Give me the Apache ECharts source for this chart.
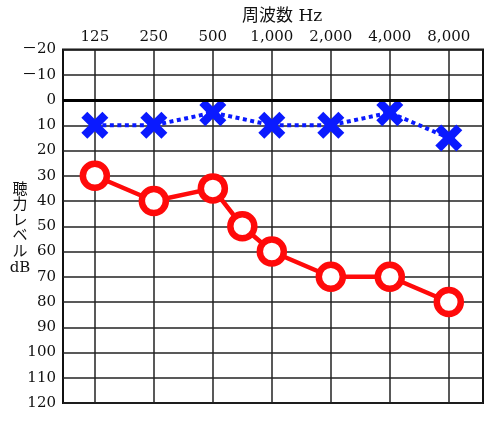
<!DOCTYPE html>
<html>
<head>
<meta charset="utf-8">
<script src="https://cdn.jsdelivr.net/npm/echarts@6/dist/echarts.min.js"></script>
<style>
html, body { margin: 0; padding: 0; background: #fff; }
#chart { width: 500px; height: 421px; }
</style>
</head>
<body>
<div id="chart"></div>
<script>
// 周波数 (octave index -> label)
var freqLabels = ['125', '250', '500', '1,000', '2,000', '4,000', '8,000'];
var freqTicks = [0, 1, 2, 3, 4, 5, 6];

// 右耳 (○) : position on the octave scale, dB
var rightPos = [0, 1, 2, 2.5, 3, 4, 5, 6];
var rightDb = [30, 40, 35, 50, 60, 70, 70, 80];

// 左耳 (×)
var leftPos = [0, 1, 2, 3, 4, 5, 6];
var leftDb = [10, 10, 5, 10, 10, 5, 15];

var serif = '"DejaVu Serif", "Noto Sans CJK JP", serif';
var crossPath = 'path://M0 22 L22 0 L50 28 L78 0 L100 22 L72 50 L100 78 L78 100 L50 72 L22 100 L0 78 L28 50 Z';

function pairs(xs, ys) {
    var out = [];
    for (var i = 0; i < xs.length; i++) {
        out.push([xs[i], ys[i]]);
    }
    return out;
}

var chart = echarts.init(document.getElementById('chart'));

var option = {
    animation: false,
    title: {
        text: '周波数 Hz',
        left: 237,
        top: 3,
        textStyle: { fontFamily: serif, fontSize: 17, fontWeight: 'normal', color: '#111' }
    },
    graphic: [{
        type: 'text',
        x: 20,
        y: 182,
        style: {
            text: '聴\n力\nレ\nベ\nル\ndB',
            font: '15px ' + serif,
            fill: '#111',
            align: 'center',
            verticalAlign: 'top',
            lineHeight: 15.6
        }
    }],
    grid: {
        left: 63,
        right: 17,
        top: 49.5,
        bottom: 18,
        show: true,
        borderColor: '#111',
        borderWidth: 2
    },
    xAxis: {
        type: 'value',
        position: 'top',
        min: -0.54,
        max: 6.58,
        axisLine: { show: false, onZero: false },
        axisTick: { show: false, customValues: freqTicks },
        axisLabel: {
            customValues: freqTicks,
            margin: 5,
            fontFamily: serif,
            fontSize: 15,
            color: '#111',
            formatter: function (v) { return freqLabels[Math.round(v)]; }
        },
        splitLine: { show: true, lineStyle: { color: '#222', width: 1.5 } }
    },
    yAxis: {
        type: 'value',
        inverse: true,
        min: -20,
        max: 120,
        interval: 10,
        axisLine: { show: false },
        axisTick: { show: false },
        axisLabel: {
            margin: 7,
            fontFamily: serif,
            fontSize: 15,
            color: '#111',
            formatter: function (v) { return v < 0 ? '－' + (-v) : String(v); }
        },
        splitLine: { show: true, lineStyle: { color: '#222', width: 1.5 } }
    },
    series: [
        {
            name: '右耳',
            type: 'line',
            data: pairs(rightPos, rightDb),
            symbol: 'circle',
            symbolSize: 24,
            lineStyle: { color: '#ff0a0a', width: 4.5 },
            itemStyle: { color: '#fff', borderColor: '#ff0a0a', borderWidth: 6.5 },
            z: 3,
            markLine: {
                silent: true,
                symbol: 'none',
                label: { show: false },
                lineStyle: { color: '#000', width: 3, type: 'solid' },
                data: [{ yAxis: 0 }]
            }
        },
        {
            name: '左耳',
            type: 'line',
            data: pairs(leftPos, leftDb),
            symbol: crossPath,
            symbolSize: 27,
            lineStyle: { color: '#0a1aff', width: 4, type: [4, 3.5] },
            itemStyle: { color: '#0a1aff' },
            z: 4
        }
    ]
};

chart.setOption(option);
</script>
</body>
</html>
